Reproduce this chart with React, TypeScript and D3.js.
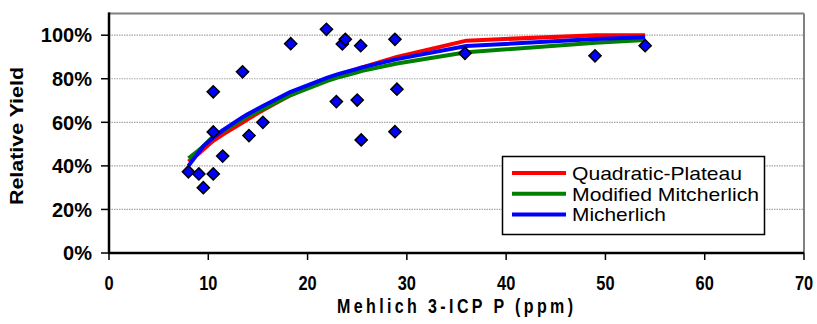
import * as d3 from 'd3';

// ─── Data ──────────────────────────────────────────────────

const obsP = [8.0, 9.05, 9.5, 10.5, 10.5, 10.5, 11.45, 13.45, 14.1, 15.5, 18.3, 21.9, 22.9, 23.5, 23.8, 25.0, 25.35, 25.4, 28.8, 29.0, 28.8, 35.85, 48.95, 54.0];
const obsRY = [0.373, 0.363, 0.30, 0.363, 0.74, 0.556, 0.445, 0.832, 0.539, 0.60, 0.961, 1.027, 0.695, 0.96, 0.981, 0.702, 0.952, 0.519, 0.981, 0.752, 0.557, 0.917, 0.905, 0.952];

const fitP = [8, 9, 9.5, 10.5, 11.5, 13.5, 14, 15.5, 18.3, 22, 23, 23.6, 25, 25.5, 29, 36, 49, 54];
const quadPlateau = [0.42, 0.455, 0.475, 0.515, 0.545, 0.60, 0.615, 0.655, 0.725, 0.80, 0.815, 0.825, 0.845, 0.852, 0.90, 0.975, 1.0, 1.0];
const modMitscherlich = [0.435, 0.47, 0.49, 0.535, 0.56, 0.615, 0.628, 0.66, 0.725, 0.79, 0.805, 0.812, 0.83, 0.836, 0.87, 0.922, 0.965, 0.978];
const mitscherlich = [0.40, 0.46, 0.49, 0.53, 0.565, 0.625, 0.638, 0.675, 0.74, 0.805, 0.82, 0.828, 0.845, 0.852, 0.89, 0.95, 0.982, 0.99];

const seriesNames = ['Quadratic-Plateau', 'Modified Mitcherlich', 'Micherlich'];
const seriesColors = ['#ff0000', '#008000', '#0000ff'];
const seriesValues = [quadPlateau, modMitscherlich, mitscherlich];
const legendWidths = [170, 187, 94];

const xTicks = [0, 10, 20, 30, 40, 50, 60, 70];
const yTicks = [0, 0.2, 0.4, 0.6, 0.8, 1.0];

// ─── Layout ────────────────────────────────────────────────

const W = 817;
const H = 324;
const PLOT = { left: 109, right: 804, top: 13.4, bottom: 253 };
const FONT = '"Liberation Sans", Arial, sans-serif';

export default function App() {
  const x = d3.scaleLinear().domain([0, 70]).range([PLOT.left, PLOT.right]);
  const y = d3.scaleLinear().domain([0, 1.1]).range([PLOT.bottom, PLOT.top]);

  const line = d3.line<[number, number]>()
    .x((d) => x(d[0]))
    .y((d) => y(d[1]));

  const diamond = d3.symbol(d3.symbolSquare, 74)();

  return (
    <svg width={W} height={H} style={{ position: 'absolute', left: 0, top: 0, background: '#fff' }}
      fontFamily={FONT}>
      <rect x={0} y={0} width={W} height={H} fill="#fff" />

      {/* gridlines */}
      {yTicks.filter((t) => t > 0).map((t) => (
        <line key={`g${t}`} x1={PLOT.left} x2={PLOT.right} y1={y(t)} y2={y(t)}
          stroke="#a6a6a6" strokeWidth={1.2} strokeDasharray="1.5 1" />
      ))}

      {/* plot frame: top and right gray */}
      <line x1={PLOT.left} x2={PLOT.right} y1={PLOT.top} y2={PLOT.top} stroke="#808080" strokeWidth={2} />
      <line x1={PLOT.right} x2={PLOT.right} y1={PLOT.top} y2={PLOT.bottom} stroke="#808080" strokeWidth={2} />

      {/* fitted curves */}
      {seriesValues.map((vals, i) => (
        <path key={seriesNames[i]}
          d={line(fitP.map((p, j) => [p, vals[j]] as [number, number])) || ''}
          fill="none" stroke={seriesColors[i]} strokeWidth={4} strokeLinejoin="round" />
      ))}

      {/* observations */}
      {obsP.map((p, i) => (
        <path key={`o${i}`} d={diamond || ''}
          transform={`translate(${x(p)},${y(obsRY[i])}) rotate(45)`}
          fill="#0000ff" stroke="#000" strokeWidth={1.5} />
      ))}

      {/* axes */}
      <line x1={PLOT.left} x2={PLOT.left} y1={PLOT.top - 1} y2={PLOT.bottom} stroke="#000" strokeWidth={2.5} />
      <line x1={PLOT.left - 1} x2={PLOT.right} y1={PLOT.bottom} y2={PLOT.bottom} stroke="#000" strokeWidth={2.5} />

      {yTicks.map((t) => (
        <g key={`y${t}`}>
          <line x1={PLOT.left - 8} x2={PLOT.left} y1={y(t)} y2={y(t)} stroke="#000" strokeWidth={1.5} />
          <text x={92} y={y(t)} dy="0.36em" textAnchor="end" fontSize={20} fontWeight="bold">
            {d3.format('.0%')(t)}
          </text>
        </g>
      ))}

      {xTicks.map((t) => (
        <g key={`x${t}`}>
          <line x1={x(t)} x2={x(t)} y1={PLOT.bottom} y2={PLOT.bottom + 7} stroke="#000" strokeWidth={1.5} />
          <g transform={`translate(${x(t)},${282.5}) scale(0.78,1)`}>
            <text x={0} y={0} dy="0.36em" textAnchor="middle" fontSize={21} fontWeight="bold">{t}</text>
          </g>
        </g>
      ))}

      {/* axis titles */}
      <g transform="translate(455,306) scale(0.8,1)">
        <text x={0} y={0} dy="0.36em" textAnchor="middle" fontSize={20} fontWeight="bold"
          textLength={236 / 0.8} lengthAdjust="spacing">
          Mehlich 3-ICP P (ppm)
        </text>
      </g>
      <text transform="translate(16,136) rotate(-90)" dy="0.36em" textAnchor="middle"
        fontSize={19} fontWeight="bold" textLength={138} lengthAdjust="spacingAndGlyphs">
        Relative Yield
      </text>

      {/* legend */}
      <rect x={502.5} y={156.5} width={262} height={78} fill="#fff" stroke="#000" strokeWidth={1.5} />
      {seriesNames.map((name, i) => (
        <g key={`l${name}`} transform={`translate(512,${173 + i * 20.8})`}>
          <line x1={0} x2={54} y1={0} y2={0} stroke={seriesColors[i]} strokeWidth={4} />
          <text x={60} y={0} dy="0.36em" fontSize={19} textLength={legendWidths[i]}
            lengthAdjust="spacingAndGlyphs">{name}</text>
        </g>
      ))}
    </svg>
  );
}
